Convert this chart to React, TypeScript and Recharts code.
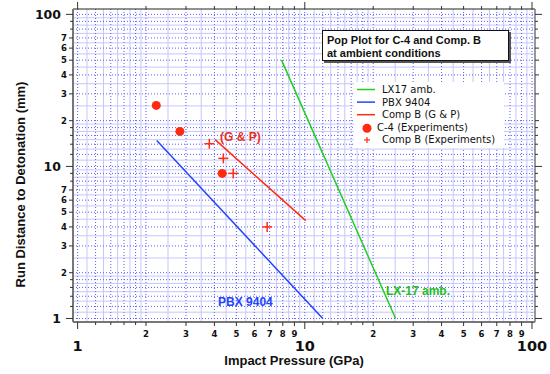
import React from "react"
import { ScatterChart, Scatter, XAxis, YAxis, ReferenceLine, ReferenceDot } from "recharts"

// curves (log-log)
const lx17Amb = [
  { x: 7.9, y: 50 },
  { x: 25.1, y: 1 },
]
const pbx9404 = [
  { x: 2.23, y: 14.8 },
  { x: 12.0, y: 1 },
]
const compBGP = [
  { x: 4.03, y: 15.0 },
  { x: 10.1, y: 4.4 },
]
const c4Experiments = [
  { x: 2.22, y: 25.2 },
  { x: 2.82, y: 17.0 },
  { x: 4.33, y: 9.0 },
]
const compBExperiments = [
  { x: 3.8, y: 14.1 },
  { x: 4.38, y: 11.3 },
  { x: 4.84, y: 9.0 },
  { x: 6.83, y: 4.0 },
]

const annotations = [
  { x: 5.21, y: 15.7, text: "(G & P)", color: "#e8301c" },
  { x: 5.48, y: 1.29, text: "PBX 9404", color: "#2244ff" },
  { x: 31.5, y: 1.52, text: "LX-17 amb.", color: "#20c020" },
]

const legendItems = [
  { name: "LX17 amb.", color: "#22cc22", kind: "line" },
  { name: "PBX 9404", color: "#2244ff", kind: "line" },
  { name: "Comp B (G & P)", color: "#ff2a10", kind: "line" },
  { name: "C-4 (Experiments)", color: "#ff2a10", kind: "dot" },
  { name: "Comp B (Experiments)", color: "#ff2a10", kind: "cross" },
]

const majorTicks = [1, 10, 100]
const xTicks = [1, 1.2, 1.4, 1.6, 1.8, 2, 3, 4, 5, 6, 7, 8, 9, 10, 12, 14, 16, 18, 20, 30, 40, 50, 60, 70, 80, 90, 100]
const yTicks = xTicks
const xLabels = [2, 3, 4, 5, 6, 7, 8, 9, 20, 30, 40, 50, 60, 70, 80, 90]
const yLabels = [2, 3, 4, 5, 6, 7, 20, 30, 40, 50, 60, 70]

const xDomain = [0.9545, 103.1]
const yDomain = [0.948, 108.5]

// pale grid lines halfway between the dotted ones (style only)
const halfSteps = [1.1, 1.3, 1.5, 1.7, 1.9, 2.5, 3.5, 4.5, 5.5, 6.5, 7.5, 8.5, 9.5]
const lightX = [1, 10].flatMap((d) => halfSteps.map((s) => +(s * d).toFixed(3)))
const lightY = [1, 10, 100].flatMap((d) => halfSteps.map((s) => +(s * d).toFixed(3))).filter((v) => v < 108)

const RED = "#ff2a10"
const TICK = "#333"
const font = "'DejaVu Sans', sans-serif"

function renderTick(side: string, labeled: number[], p: any) {
  const { x, y, payload } = p
  const v = payload.value
  const major = majorTicks.includes(v)
  const len = major ? 7 : labeled.includes(v) ? 4 : 3
  if (side === "bottom") {
    return (
      <g>
        <line x1={x} y1={y} x2={x} y2={y + len} stroke={TICK} />
        {labeled.includes(v) && (
          <text x={x} y={y + 14.5} textAnchor="middle" fontSize={8.5} fontWeight="bold" fontFamily={font} fill="#111">
            {v >= 10 ? v / 10 : v}
          </text>
        )}
        {major && (
          <text x={x} y={y + 29} textAnchor="middle" fontSize={14.5} fontWeight="bold" fontFamily={font} fill="#111">
            {v}
          </text>
        )}
      </g>
    )
  }
  if (side === "top") {
    return <line x1={x} y1={y} x2={x} y2={y - len} stroke={TICK} />
  }
  if (side === "right") {
    return <line x1={x} y1={y} x2={x + len} y2={y} stroke={TICK} />
  }
  return (
    <g>
      <line x1={x} y1={y} x2={x - len} y2={y} stroke={TICK} />
      {labeled.includes(v) && (
        <text x={x - 6} y={y + 3} textAnchor="end" fontSize={8.5} fontWeight="bold" fontFamily={font} fill="#111">
          {v >= 10 ? v / 10 : v}
        </text>
      )}
      {major && (
        <text x={x - 12} y={y + 4.5} textAnchor="end" fontSize={12.5} fontWeight="bold" fontFamily={font} fill="#111">
          {v}
        </text>
      )}
    </g>
  )
}

const CircleShape = (p: any) => <circle cx={p.cx} cy={p.cy} r={4.5} fill={RED} />
const CrossShape = (p: any) => (
  <g stroke={RED} strokeWidth={1.5}>
    <line x1={p.cx - 5} y1={p.cy} x2={p.cx + 5} y2={p.cy} />
    <line x1={p.cx} y1={p.cy - 5} x2={p.cx} y2={p.cy + 5} />
  </g>
)
const NoShape = () => <g />

function LegendBox() {
  return (
    <div style={{ position: "absolute", left: 354, top: 82, width: 150, height: 66, background: "#fff" }}>
      <svg width={150} height={66} style={{ display: "block" }}>
        {legendItems.map((it, i) => {
          const cy = 7.5 + i * 12.6
          return (
            <g key={it.name}>
              {it.kind === "line" && <line x1={3} x2={21} y1={cy} y2={cy} stroke={it.color} strokeWidth={1.5} />}
              {it.kind === "dot" && <circle cx={13} cy={cy + 1} r={4.5} fill={it.color} />}
              {it.kind === "cross" && (
                <g stroke={it.color} strokeWidth={1.2}>
                  <line x1={10} x2={16} y1={cy} y2={cy} />
                  <line x1={13} x2={13} y1={cy - 3} y2={cy + 3} />
                </g>
              )}
              <text x={it.kind === "dot" ? 23 : 28} y={cy + 3.5} fontSize={10} fontFamily={font} fill="#111">
                {it.name}
              </text>
            </g>
          )
        })}
      </svg>
    </div>
  )
}

export default function App() {
  return (
    <div style={{ position: "absolute", left: 0, top: 0, width: 550, height: 374, background: "#fff" }}>
      <ScatterChart width={550} height={374} margin={{ top: 8, right: 14, bottom: 0, left: 0 }}>
        <XAxis
          xAxisId={0}
          type="number"
          dataKey="x"
          scale="log"
          domain={xDomain}
          allowDataOverflow
          ticks={xTicks}
          interval={0}
          tickLine={false}
          tickSize={0}
          tickMargin={0}
          height={52}
          axisLine={{ stroke: "#777", strokeWidth: 2 }}
          tick={(p: any) => renderTick("bottom", xLabels, p)}
        />
        <XAxis
          xAxisId="top"
          orientation="top"
          type="number"
          dataKey="x"
          scale="log"
          domain={xDomain}
          allowDataOverflow
          ticks={[1, 2, 3, 4, 5, 6, 7, 8, 9, 10, 20, 30, 40, 50, 60, 70, 80, 90, 100]}
          interval={0}
          tickLine={false}
          tickSize={0}
          tickMargin={0}
          height={1}
          axisLine={{ stroke: "#222", strokeWidth: 1 }}
          tick={(p: any) => renderTick("top", [], p)}
        />
        <YAxis
          yAxisId={0}
          type="number"
          dataKey="y"
          scale="log"
          domain={yDomain}
          allowDataOverflow
          ticks={yTicks}
          interval={0}
          tickLine={false}
          tickSize={0}
          tickMargin={0}
          width={73}
          axisLine={{ stroke: "#777", strokeWidth: 2 }}
          tick={(p: any) => renderTick("left", yLabels, p)}
        />
        <YAxis
          yAxisId="right"
          orientation="right"
          type="number"
          dataKey="y"
          scale="log"
          domain={yDomain}
          allowDataOverflow
          ticks={yTicks}
          interval={0}
          tickLine={false}
          tickSize={0}
          tickMargin={0}
          width={1}
          axisLine={{ stroke: "#777", strokeWidth: 1.5 }}
          tick={(p: any) => renderTick("right", yLabels, p)}
        />

        {lightX.map((v) => (
          <ReferenceLine key={"lx" + v} x={v} stroke="#c6c6fb" strokeWidth={1} />
        ))}
        {lightY.map((v) => (
          <ReferenceLine key={"ly" + v} y={v} stroke="#c6c6fb" strokeWidth={1} />
        ))}
        {xTicks.map((v) => (
          <ReferenceLine key={"dx" + v} x={v} stroke="#5c5cff" strokeDasharray="1 2" strokeWidth={1} />
        ))}
        {yTicks.map((v) => (
          <ReferenceLine key={"dy" + v} y={v} stroke="#5c5cff" strokeDasharray="1 2" strokeWidth={1} />
        ))}

        <Scatter name="LX17 amb." data={lx17Amb} line={{ stroke: "#22cc22", strokeWidth: 1.5 }} shape={NoShape} isAnimationActive={false} />
        <Scatter name="PBX 9404" data={pbx9404} line={{ stroke: "#2244ff", strokeWidth: 1.5 }} shape={NoShape} isAnimationActive={false} />
        <Scatter name="Comp B (G & P)" data={compBGP} line={{ stroke: RED, strokeWidth: 1.5 }} shape={NoShape} isAnimationActive={false} />
        <Scatter name="C-4 (Experiments)" data={c4Experiments} shape={CircleShape} isAnimationActive={false} />
        <Scatter name="Comp B (Experiments)" data={compBExperiments} shape={CrossShape} isAnimationActive={false} />

        {annotations.map((a) => (
          <ReferenceDot
            key={a.text}
            x={a.x}
            y={a.y}
            r={0}
            fill="none"
            stroke="none"
            label={{ value: a.text, position: "center", fill: a.color, fontSize: 12, fontWeight: "bold", fontFamily: "'Liberation Sans', Arial, sans-serif" }}
          />
        ))}
      </ScatterChart>

      <div
        style={{
          position: "absolute",
          left: 322,
          top: 30,
          width: 187,
          height: 31,
          background: "#fff",
          border: "1.5px solid #111",
          boxShadow: "2px 2px 0 #555",
          fontFamily: "'Liberation Sans', Arial, sans-serif",
          fontWeight: "bold",
          fontSize: 11,
          lineHeight: "13px",
          padding: "3px 0 0 4px",
          boxSizing: "border-box",
          color: "#111",
        }}
      >
        <div>Pop Plot for C-4 and Comp. B</div>
        <div>at ambient conditions</div>
      </div>

      <LegendBox />

      <div
        style={{
          position: "absolute",
          left: 194,
          top: 353,
          width: 200,
          textAlign: "center",
          fontFamily: "'Liberation Sans', Arial, sans-serif",
          fontWeight: "bold",
          fontSize: 13,
          color: "#111",
        }}
      >
        Impact Pressure (GPa)
      </div>
      <div
        style={{
          position: "absolute",
          left: 20 - 120,
          top: 186 - 9,
          width: 240,
          textAlign: "center",
          transform: "rotate(-90deg)",
          fontFamily: "'Liberation Sans', Arial, sans-serif",
          fontWeight: "bold",
          fontSize: 13,
          color: "#111",
        }}
      >
        Run Distance to Detonation (mm)
      </div>
    </div>
  )
}
